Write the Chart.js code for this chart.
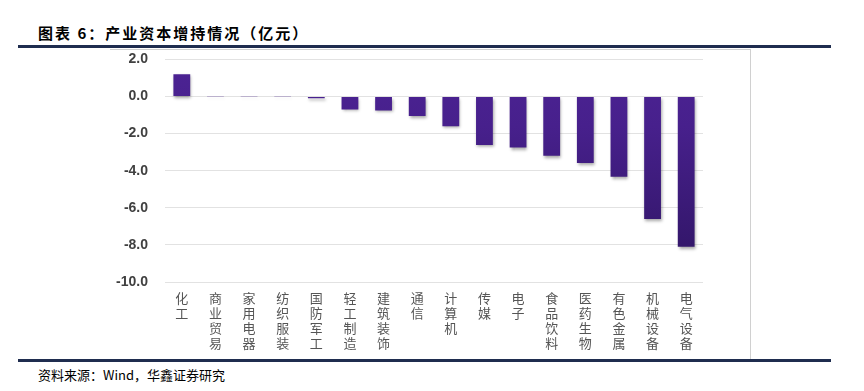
<!DOCTYPE html>
<html>
<head>
<meta charset="utf-8">
<script src="https://cdn.jsdelivr.net/npm/chart.js@4"></script>
<style>
  html, body { margin: 0; padding: 0; background: #fff; }
  body { width: 864px; height: 391px; position: relative; overflow: hidden; }
  #title { position: absolute; left: 38px; top: 22px; font: bold 15px "Noto Sans CJK SC"; color: #000; letter-spacing: 2px; }
  .rule { position: absolute; left: 18px; width: 813px; height: 3px; background: #1f2d4f; }
  #frameTop { position: absolute; left: 110px; top: 49px; width: 640px; height: 1px; background: #d0d0d0; }
  #frameRight { position: absolute; left: 750px; top: 49px; width: 1px; height: 310px; background: #d0d0d0; }
  #source { position: absolute; left: 38px; top: 365px; font: 13px "Noto Sans CJK SC"; color: #000; }
  #wrap { position: absolute; left: 0; top: 34px; width: 750px; height: 324px; }
</style>
</head>
<body>
<div id="title">图表 6：产业资本增持情况（亿元）</div>
<div class="rule" style="top:45px"></div>
<div id="frameTop"></div>
<div id="frameRight"></div>
<div id="wrap"><canvas id="chart"></canvas></div>
<div class="rule" style="top:359px"></div>
<div id="source">资料来源：Wind，华鑫证券研究</div>

<script>
// industries (x axis) and net increase of holdings, 亿元
const industries = ['化工', '商业贸易', '家用电器', '纺织服装', '国防军工', '轻工制造', '建筑装饰', '通信',
                    '计算机', '传媒', '电子', '食品饮料', '医药生物', '有色金属', '机械设备', '电气设备'];
const netHoldings = [1.2, -0.02, -0.02, -0.02, -0.1, -0.7, -0.75, -1.05,
                     -1.6, -2.62, -2.75, -3.2, -3.58, -4.32, -6.6, -8.1];
const yTicks = [2, 0, -2, -4, -6, -8, -10];

// vertical labels: one character per line
const labels = industries.map(name => name.split(''));

// soft drop shadow under the bars
const barShadow = {
  id: 'barShadow',
  beforeDatasetsDraw(chart) {
    const ctx = chart.ctx;
    ctx.save();
    ctx.shadowColor = 'rgba(0,0,0,0.35)';
    ctx.shadowBlur = 3;
    ctx.shadowOffsetX = 1;
    ctx.shadowOffsetY = 2;
  },
  afterDatasetsDraw(chart) {
    chart.ctx.restore();
  }
};

function barGradient(context) {
  const chart = context.chart;
  const area = chart.chartArea;
  if (!area) return '#3f1d80';
  const g = chart.ctx.createLinearGradient(0, area.top, 0, area.bottom);
  g.addColorStop(0, '#4c2394');
  g.addColorStop(0.3, '#47208c');
  g.addColorStop(1, '#2e1462');
  return g;
}

new Chart(document.getElementById('chart'), {
  type: 'bar',
  data: {
    labels: labels,
    datasets: [{
      data: netHoldings,
      backgroundColor: barGradient,
      borderWidth: 0,
      barPercentage: 0.5,
      categoryPercentage: 1.0
    }]
  },
  options: {
    responsive: true,
    maintainAspectRatio: false,
    animation: false,
    layout: { padding: { top: 0, right: 47, bottom: 0, left: 0 } },
    plugins: {
      legend: { display: false },
      tooltip: { enabled: false }
    },
    scales: {
      x: {
        grid: { display: false },
        border: { display: false },
        ticks: {
          autoSkip: false,
          maxRotation: 0,
          minRotation: 0,
          padding: 1,
          color: '#555',
          font: { family: 'Noto Sans CJK SC', size: 13, lineHeight: '15px' }
        },
        afterFit(scale) { scale.height = 76; }
      },
      y: {
        min: -10,
        max: 2,
        afterBuildTicks(scale) { scale.ticks = yTicks.map(v => ({ value: v })); },
        grid: { color: '#e2e2e2', lineWidth: 1, drawTicks: false },
        border: { display: false },
        ticks: {
          padding: 17,
          color: '#404040',
          font: { family: 'Liberation Sans', size: 14, weight: 'bold' },
          callback: v => v.toFixed(1)
        },
        afterFit(scale) { scale.width = 165; }
      }
    }
  },
  plugins: [barShadow]
});
</script>
</body>
</html>
